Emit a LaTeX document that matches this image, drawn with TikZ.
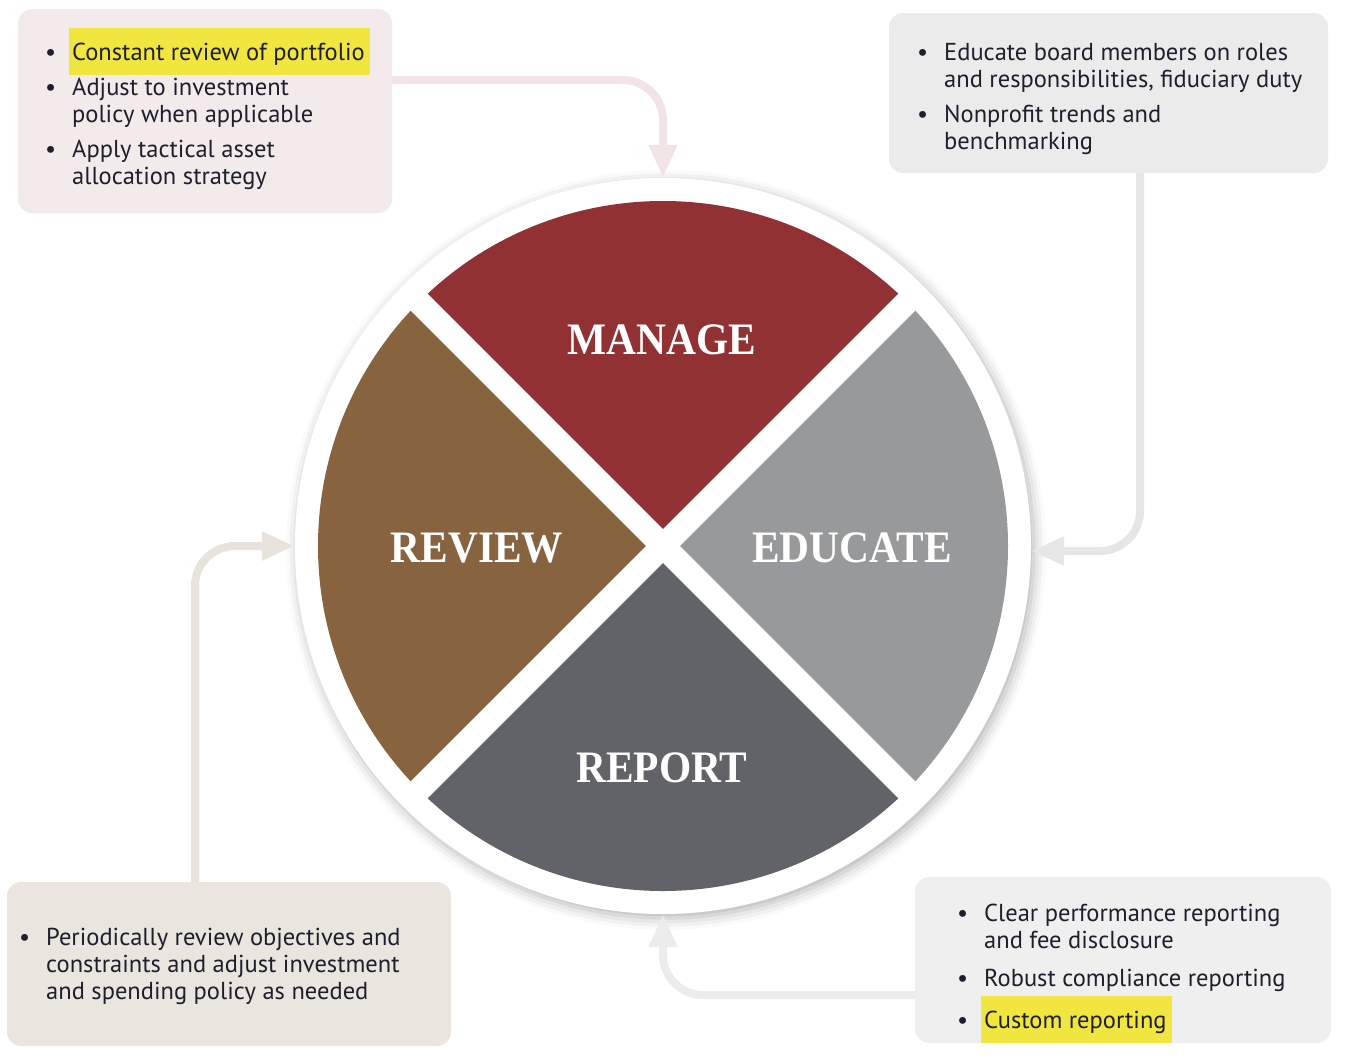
\documentclass[tikz,border=0pt]{standalone}
\usepackage{fontspec}
\setmainfont{PT Sans}
\newfontfamily\labelfont[FakeStretch=0.92]{Liberation Serif}
\usetikzlibrary{arrows.meta,shadows.blur,calc,positioning}

\definecolor{managefill}{HTML}{923133}
\definecolor{reviewfill}{HTML}{87643F}
\definecolor{educatefill}{HTML}{98999B}
\definecolor{reportfill}{HTML}{626369}
\definecolor{managebg}{HTML}{F3EAEB}
\definecolor{educatebg}{HTML}{EBEBEB}
\definecolor{reviewbg}{HTML}{EAE5DF}
\definecolor{reportbg}{HTML}{EFEFEF}
\definecolor{manageflow}{HTML}{F2E4E6}
\definecolor{educateflow}{HTML}{E6E6E6}
\definecolor{reviewflow}{HTML}{E8E3DC}
\definecolor{reportflow}{HTML}{ECECEC}
\definecolor{marker}{HTML}{F1E540}
\definecolor{ink}{HTML}{1E1E2C}

\newcommand\bul{\makebox[27pt][l]{\textbullet}}
\newcommand\marked[1]{{\fboxsep=0pt\hspace*{-3pt}\smash{\colorbox{marker}{\rule[-15pt]{0pt}{47pt}\hspace{3pt}#1\hspace{5pt}}}}}

\tikzset{
  notebox/.style={rounded corners=14pt, inner sep=0pt},
  notetext/.style={anchor=north west, inner sep=0pt, text=ink, font=\fontsize{24.5}{27}\selectfont},
  wheelring/.style={circle, fill=white, minimum size=736pt, inner sep=0pt,
    blur shadow={shadow xshift=3pt, shadow yshift=-4pt, shadow blur radius=12pt, shadow opacity=30}},
  gap/.style={white, line width=24pt},
  seglabel/.style={text=white, inner sep=0pt, font=\labelfont\bfseries\fontsize{45}{50}\selectfont},
  flow/.style={line width=8pt, rounded corners=40pt, -{Triangle[width=27pt,length=33pt]}}
}

\begin{document}
\begin{tikzpicture}[x=1pt,y=1pt]
\useasboundingbox (0,0) rectangle (1348,-1060);
% boxes
\node[notebox, fill=managebg, minimum width=374pt, minimum height=204pt] (mbox) at (205,-111) {};
\node[notebox, fill=educatebg, minimum width=439pt, minimum height=160pt] (ebox) at (1108.5,-93) {};
\node[notebox, fill=reviewbg, minimum width=444pt, minimum height=164pt] (rvbox) at (229,-964) {};
\node[notebox, fill=reportbg, minimum width=416pt, minimum height=166pt] (rpbox) at (1123,-960) {};

% wheel
\node[wheelring] (wheel) at (663,-546) {};
\foreach \ang/\col in {45/managefill, 135/reviewfill, 225/reportfill, 315/educatefill}
  \fill[\col] (wheel.center) -- ++(\ang:345pt) arc[start angle=\ang, delta angle=90, radius=345pt] -- cycle;
\foreach \ang in {45,135}
  \draw[gap] ($(wheel.center)+(\ang:350pt)$) -- ($(wheel.center)+(\ang+180:350pt)$);

\node[seglabel] (manage) at (662,-340) {MANAGE};
\node[seglabel] (review) at (477,-548) {REVIEW};
\node[seglabel] (educate) at (852,-548) {EDUCATE};
\node[seglabel] (report) at (662,-768) {REPORT};

% connectors
\draw[flow, manageflow] ([yshift=31pt]mbox.east) -| (wheel.north);
\draw[flow, educateflow] ([xshift=31.5pt]ebox.south) |- ([yshift=-5pt]wheel.east);
\draw[flow, reviewflow] ([xshift=-34pt]rvbox.north) |- (wheel.west);
\draw[flow, reportflow] ([yshift=-35pt]rpbox.west) -| (wheel.south);

% texts
\node[notetext] (mtext) at (45,-41) {%
\begin{tabular}{@{}l@{}l@{}}
\bul & \marked{Constant review of portfolio}\\[8pt]
\bul & Adjust to investment\\
     & policy when applicable\\[8pt]
\bul & Apply tactical asset\\
     & allocation strategy
\end{tabular}};
\node[notetext] (etext) at (917,-41) {%
\begin{tabular}{@{}l@{}l@{}}
\bul & Educate board members on roles\\
     & and responsibilities, fiduciary duty\\[8pt]
\bul & Nonprofit trends and\\
     & benchmarking
\end{tabular}};
\node[notetext] (rvtext) at (19,-926) {%
\begin{tabular}{@{}l@{}l@{}}
\bul & Periodically review objectives and\\
     & constraints and adjust investment\\
     & and spending policy as needed
\end{tabular}};
\node[notetext] (rptext) at (957,-902) {%
\begin{tabular}{@{}l@{}l@{}}
\bul & Clear performance reporting\\
     & and fee disclosure\\[11pt]
\bul & Robust compliance reporting\\[15pt]
\bul & \marked{Custom reporting}
\end{tabular}};
\end{tikzpicture}
\end{document}
